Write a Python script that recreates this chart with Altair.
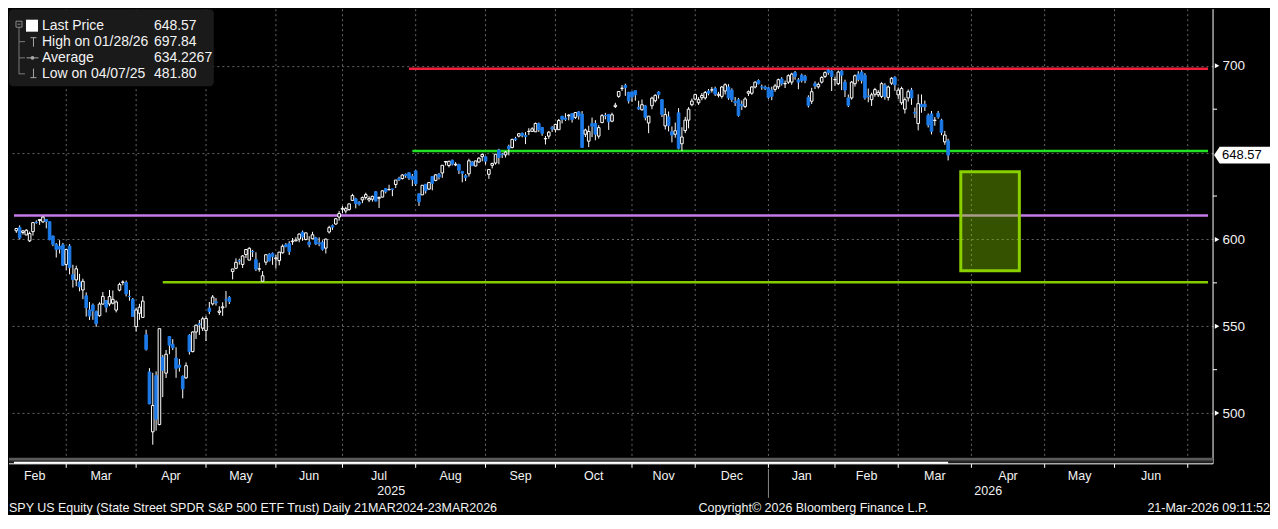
import altair as alt
import pandas as pd

FONT = "Liberation Sans, Arial, Helvetica, sans-serif"
TXT = "#f2f2f2"
BLUE = "#1c7ae8"
GRID = "#666666"
W, H = 1205, 448
X_DOM = [-16.7, 342.1]
Y_DOM = [474.8, 732.6]

# ---- daily SPY candles (open, high, low, close) ----
feb25 = [(605.0,606.6,603.8,606.3),(606.9,608.1,600.0,600.8),(604.0,605.5,602.8,604.9),(602.6,605.9,602.5,605.3),
         (599.2,604.5,598.5,603.4),(604.5,610.0,602.2,609.7),(609.9,611.0,609.1,609.7),(610.9,611.5,608.4,611.5),
         (610.1,613.2,609.6,612.9),(611.5,611.5,606.4,610.4),(610.2,610.3,599.5,599.9),(602.0,602.2,596.1,597.2),
         (597.2,597.9,589.6,594.2),(595.9,599.6,591.9,594.5),(596.9,598.0,584.7,585.1),(585.6,594.7,582.4,594.2)]
mar25 = [(596.2,597.3,579.9,583.8),(579.7,585.4,572.3,576.9),(576.7,584.9,573.1,583.1),(575.5,580.2,570.1,572.7),
         (570.9,577.4,565.6,575.9),(567.6,569.5,555.6,560.6),(559.4,564.0,553.6,555.9),(562.2,563.1,553.7,558.9),
         (558.5,559.0,549.7,551.4),(556.1,563.8,555.5,562.8),(562.8,569.7,562.4,567.2),(564.8,564.9,558.0,561.0),
         (562.8,570.9,561.6,567.1),(563.3,570.6,562.6,565.5),(559.3,564.9,558.0,564.0),(570.8,575.1,570.1,574.1),
         (575.3,576.4,573.6,575.5),(575.2,576.3,567.2,568.6),(567.2,570.9,564.7,567.1),(565.5,566.3,555.6,555.7),
         (549.8,560.7,546.9,559.4)]
apr25 = [(557.5,562.9,553.7,561.0),(555.1,567.4,554.8,564.5),(545.1,548.0,536.0,536.7),(523.7,525.9,505.1,505.3),
         (489.2,523.2,481.8,504.4),(521.6,524.0,489.9,496.5),(493.4,548.6,493.0,548.6),(532.2,533.5,509.2,524.6),
         (523.0,536.4,520.2,533.9),(544.1,544.3,533.9,539.1),(539.7,542.6,536.3,537.6),(531.7,537.9,520.3,525.7),
         (527.6,531.2,523.9,526.4),(521.2,521.7,508.5,513.9),(520.3,529.2,519.7,527.3),(544.8,545.4,533.7,535.4),
         (535.4,547.0,535.0,546.7),(546.7,551.0,542.7,550.6),(551.4,553.6,545.0,550.9),(548.9,555.5,547.3,554.3),
         (547.6,556.0,541.5,554.5)]
may25 = [(560.4,564.0,557.0,558.5),(562.9,568.0,562.0,566.8),(564.1,566.2,561.9,563.5),(558.0,561.5,556.4,558.8),
         (560.6,563.8,556.0,561.2),(565.2,570.3,560.8,565.1),(566.6,567.4,562.8,564.3),(581.5,583.0,577.0,583.0),
         (583.4,589.1,582.9,586.8),(587.8,588.9,585.5,587.6),(585.6,591.0,583.6,590.5),(591.3,594.5,589.3,594.2),
         (588.1,595.5,588.1,594.9),(593.1,594.0,589.9,592.9),(588.4,592.6,581.8,582.9),(582.9,586.6,581.4,583.1),
         (575.9,581.8,575.6,579.1),(586.9,591.3,585.2,591.2),(591.4,592.1,587.3,587.7),(592.0,592.5,585.4,590.1),
         (588.9,591.1,583.2,589.4)]
jun25 = [(587.8,592.8,585.1,592.7),(592.3,597.1,591.9,596.1),(596.9,597.9,595.5,595.9),(597.6,599.0,591.1,593.1),
         (598.7,600.8,596.9,599.1),(599.2,601.3,598.9,599.7),(600.2,603.5,598.4,603.1),(604.2,605.1,599.2,601.4),
         (600.0,603.8,599.5,603.8),(598.5,601.9,595.5,597.0),(600.4,604.4,600.2,602.7),(600.9,601.5,596.8,597.5),
         (598.0,601.2,596.1,597.4),(598.4,599.5,593.6,594.3),(595.0,600.5,591.9,600.2),(604.3,607.9,603.4,606.8),
         (607.9,608.6,605.5,607.1),(608.9,612.3,608.4,611.9),(612.9,616.4,610.8,614.9),(617.4,619.2,615.0,617.9)]
jul25 = [(616.4,618.8,615.0,617.7),(617.2,620.5,616.6,620.5),(622.5,626.3,622.4,625.3),(623.4,624.0,617.9,620.7),
         (621.4,622.1,619.5,620.3),(622.8,624.7,620.9,624.1),(624.2,626.9,623.0,625.8),(622.7,624.9,621.5,623.6),
         (623.2,625.2,621.8,624.8),(627.5,627.9,622.0,622.1),(623.7,624.7,618.1,624.2),(624.4,628.4,624.2,628.0),
         (629.3,629.5,626.5,627.6),(628.6,631.5,628.3,628.8),(629.1,629.1,624.9,628.9),(631.6,634.2,629.6,634.2),
         (635.2,636.1,633.6,634.4),(635.1,637.6,634.5,637.1),(637.4,638.0,635.5,636.9),(638.4,638.7,634.3,635.3),
         (636.4,637.7,630.7,634.5),(639.5,639.8,630.8,632.1)]
aug25 = [(626.3,626.3,619.3,621.7),(625.7,631.2,625.6,631.2),(631.8,631.8,626.4,628.0),(629.0,633.0,628.5,632.8),
         (636.3,636.4,628.3,632.3),(634.0,637.6,633.5,637.2),(637.5,638.3,634.5,635.9),(638.3,642.9,635.5,642.7),
         (644.6,645.2,642.6,644.9),(642.6,645.3,641.5,645.0),(645.6,646.0,642.6,643.4),(642.9,644.5,642.2,643.3),
         (643.1,643.6,637.7,639.8),(639.2,639.2,632.9,638.1),(636.7,637.6,633.6,635.6),(637.8,646.5,636.2,645.3),
         (644.6,645.1,642.4,642.5),(642.3,645.3,642.1,645.2),(644.6,647.4,644.2,646.8),(647.7,649.5,645.0,648.9),
         (647.6,647.8,643.1,645.1)]
sep25 = [(637.5,640.5,634.9,640.3),(642.7,644.2,640.9,643.7),(644.0,649.2,643.1,649.1),(651.5,652.2,643.3,647.2),
         (649.0,649.9,646.9,648.8),(648.7,650.9,647.2,650.3),(653.6,654.6,648.4,652.2),(652.9,658.0,652.5,657.6),
         (658.0,659.1,656.6,657.4),(659.5,661.0,658.8,660.9),(661.2,661.5,658.8,660.0),(659.9,661.8,654.9,659.2),
         (662.2,664.1,660.1,662.3),(662.3,664.6,661.9,663.7),(662.0,667.3,661.9,666.8),(666.7,667.3,661.9,663.2),
         (664.5,664.6,659.7,661.1),(657.9,659.6,654.7,658.1),(659.5,662.4,657.9,661.8),(664.4,665.3,661.9,663.7),
         (663.2,666.7,661.6,666.2)]
oct25 = [(663.2,669.4,663.1,668.5),(671.0,671.1,666.8,669.2),(669.9,672.7,668.2,669.2),(671.2,672.2,668.6,671.6),
         (672.5,672.6,667.3,669.1),(670.3,673.2,669.4,673.1),(673.5,673.9,669.0,671.2),(672.2,673.9,652.8,653.0),
         (660.6,663.8,659.0,663.0),(656.6,665.5,653.2,662.2),(666.8,670.2,658.9,665.2),(666.8,668.7,657.1,660.6),
         (659.5,665.8,658.1,664.4),(667.3,672.2,667.0,671.3),(671.4,672.9,669.2,671.3),(672.0,672.0,663.1,667.8),
         (668.1,673.0,667.5,671.8),(676.5,678.7,675.7,677.3),(682.4,685.5,681.6,685.2),(687.0,688.9,685.5,687.1),
         (688.7,689.7,682.7,687.4),(684.7,685.0,678.3,679.8),(685.0,685.1,679.2,682.1)]
nov25 = [(685.7,685.8,679.9,683.3),(676.1,679.9,674.6,675.2),(674.7,680.6,674.2,677.6),(676.9,677.4,668.6,670.3),
         (667.1,671.1,661.2,671.0),(677.0,682.2,675.0,681.4),(679.9,683.6,678.9,683.0),(684.9,685.4,681.1,683.4),
         (680.5,680.9,670.5,672.0),(665.4,675.6,663.3,671.9),(670.6,673.7,662.2,665.7),(662.1,665.1,655.9,660.1),
         (660.6,667.3,658.6,662.6),(672.9,675.6,651.9,652.5),(655.1,664.6,650.9,659.0),(662.7,670.6,661.2,668.7),
         (668.7,676.2,664.0,675.0),(677.6,681.1,676.7,679.7),(680.8,683.9,680.5,683.4)]
dec25 = [(678.7,681.9,677.5,680.5),(681.6,684.3,680.2,682.9),(681.5,685.5,680.5,684.6),(685.5,686.6,683.0,684.2),
         (686.0,687.8,684.6,686.2),(686.9,688.0,682.6,683.7),(683.0,685.0,681.8,683.6),(682.4,688.4,681.2,687.8),
         (685.5,689.9,683.5,689.1),(687.8,689.4,680.4,681.5),(686.0,687.0,679.2,680.5),(679.6,682.0,676.8,678.7),
         (680.5,681.5,670.7,671.4),(677.8,680.0,674.5,676.9),(676.5,681.9,675.8,680.9),(684.2,685.8,682.6,685.1),
         (684.2,688.2,683.3,687.8),(687.8,691.0,687.0,690.6),(691.5,692.2,689.3,689.7),(687.9,689.2,686.2,687.8),
         (687.8,688.6,686.0,686.9),(687.3,687.9,681.0,681.8)]
jan26 = [(686.0,688.0,680.2,682.4),(686.4,689.6,685.0,688.4),(687.9,692.6,686.6,692.0),(692.4,693.5,688.6,689.7),
         (689.6,691.5,687.2,689.8),(690.6,695.1,689.6,694.3),(690.6,696.0,689.1,695.2),(696.1,697.0,692.0,693.9),
         (691.9,693.0,686.5,690.6),(694.6,695.5,690.4,691.5),(693.9,694.8,690.0,691.5),(681.8,683.0,676.0,677.2),
         (679.6,687.3,678.0,685.1),(689.7,691.0,686.6,688.4),(687.9,690.4,686.9,689.3),(690.6,694.0,689.8,693.3),
         (693.9,696.8,693.0,696.1),(697.5,697.84,694.8,696.1),(697.0,697.5,685.5,693.9),(692.0,693.8,688.5,692.1)]
feb26 = [(689.7,697.3,688.9,696.4),(697.0,697.6,686.0,694.6),(690.6,692.0,682.0,686.0),(681.5,683.5,676.2,677.2),
         (681.5,691.3,680.5,690.6),(689.7,695.0,688.0,694.3),(695.2,696.9,691.0,692.1),(696.4,697.5,689.8,691.5),
         (694.6,695.8,680.5,681.5),(682.5,686.9,679.0,682.4),(680.5,684.5,676.9,683.3),(683.6,687.3,682.2,686.3),
         (683.3,686.0,682.0,684.7),(682.4,690.6,681.4,689.7),(688.8,690.0,680.5,682.4),(681.8,688.6,680.0,687.8),
         (690.0,693.5,689.0,692.8),(693.3,694.0,685.6,689.1),(683.3,687.5,681.0,686.0)]
mar26 = [(678.7,688.0,677.5,686.9),(675.0,681.8,672.5,680.5),(681.5,686.4,679.4,685.1),(686.0,687.3,677.5,681.5),
         (673.2,676.0,670.0,672.7),(666.8,683.6,662.8,678.2),(677.8,683.5,673.0,676.4),(677.8,680.0,674.0,676.4),
         (671.4,672.5,664.5,665.9),(672.3,674.0,660.5,662.3),(668.5,670.5,665.5,668.7),(672.7,674.0,669.5,670.5),
         (668.7,669.5,660.0,661.7),(656.2,662.5,654.5,660.1),(656.8,658.0,645.5,648.57)]

# ---- axis / annotation content ----
months = ["Feb", "Mar", "Apr", "May", "Jun", "Jul", "Aug", "Sep", "Oct", "Nov", "Dec",
          "Jan", "Feb", "Mar", "Apr", "May", "Jun"]
month_days = [19, 21, 21, 21, 20, 22, 21, 21, 23, 19, 22, 20, 19, 22, 22, 21, 22]
first_index = -19          # trading-day index of 3 Feb 2025
first_shown = -16          # trading-day index of first candle drawn
years = ["2025", "2026"]
price_ticks = [500, 550, 600, 650, 700]
minor_ticks = [525, 575, 625, 675]
levels = [698.3, 650.9, 613.8, 575.3]
level_start = [102, 103, -16.7, 28]
level_colors = ["#f0203c", "#22e022", "#c47ae8", "#84cc00"]
zone_t = [267.8, 285.4]
zone_v = [582.0, 639.0]
last_price = 648.57
legend_labels = ["Last Price", "High on 01/28/26", "Average", "Low on 04/07/25"]
legend_values = ["648.57", "697.84", "634.2267", "481.80"]
footer_left = "SPY US Equity (State Street SPDR S&P 500 ETF Trust) Daily 21MAR2024-23MAR2026"
footer_mid = "Copyright\u00a9 2026 Bloomberg Finance L.P."
footer_right = "21-Mar-2026 09:11:52"

# ---- build tables ----
rows = feb25 + mar25 + apr25 + may25 + jun25 + jul25 + aug25 + sep25 + oct25 + nov25 + dec25 + jan26 + feb26 + mar26
df = pd.DataFrame(rows, columns=["o", "h", "l", "c"])
df["t"] = list(range(first_shown, first_shown + len(df)))

bounds = []
s = first_index
for d in month_days:
    bounds.append(s - 1)
    s += d
bounds.append(s - 1)
grid_t = [b for b in bounds if X_DOM[0] < b < X_DOM[1]]
mdf = pd.DataFrame({"t": [(bounds[i] + bounds[i + 1]) / 2 for i in range(len(months))], "lab": months})
ybound = bounds[11]
ydf = pd.DataFrame({"t": [(X_DOM[0] + ybound) / 2, (ybound + X_DOM[1]) / 2], "lab": years})

xs = alt.Scale(domain=X_DOM, nice=False, zero=False)
ys = alt.Scale(domain=Y_DOM, nice=False, zero=False)
yaxis = alt.Axis(orient="right", values=price_ticks,
                 labelExpr="datum.value == 650 ? '' : datum.label",
                 grid=True, gridColor=GRID, gridDash=[2, 3], gridWidth=1,
                 domain=False, ticks=False, tickSize=0, labelPadding=9,
                 labelFont=FONT, labelFontSize=13.5, labelColor=TXT, title=None)


def X(field):
    return alt.X(field, type="quantitative", scale=xs, axis=None)


def Y(field):
    return alt.Y(field, type="quantitative", scale=ys, axis=yaxis)


one = pd.DataFrame({"k": [0]})


def seg(x1, y1, x2, y2, color, w=1.0):
    return alt.Chart(one).mark_rule(color=color, strokeWidth=w).encode(
        x=alt.value(x1), x2=alt.value(x2), y=alt.value(y1), y2=alt.value(y2))


def box(x1, y1, x2, y2, **kw):
    return alt.Chart(one).mark_rect(**kw).encode(
        x=alt.value(x1), x2=alt.value(x2), y=alt.value(y1), y2=alt.value(y2))


def label(s, x, y, size=13, color=TXT, align="left", baseline="middle"):
    return alt.Chart(one).mark_text(text=s, font=FONT, fontSize=size, color=color,
                                    align=align, baseline=baseline).encode(
        x=alt.value(x), y=alt.value(y))


layers = []

wicks = alt.Chart(df).mark_rule(color="#ffffff", strokeWidth=1).encode(
    x=X("t"), y=Y("l"), y2="h:Q")
down = "datum.c < datum.o"
bodies = alt.Chart(df).mark_bar(width=2.6, strokeWidth=1).encode(
    x=X("t"), y=Y("o"), y2="c:Q",
    fill=alt.condition(down, alt.value(BLUE), alt.value("#000000")),
    stroke=alt.condition(down, alt.value(BLUE), alt.value("#ffffff")))

# vertical month gridlines
layers.append(alt.Chart(pd.DataFrame({"t": grid_t})).mark_rule(
    color=GRID, strokeWidth=1, strokeDash=[2, 3]).encode(
    x=X("t"), y=alt.value(0), y2=alt.value(H)))

# horizontal level lines
lv = pd.DataFrame({"v": levels, "t0": level_start, "t1": [X_DOM[1]] * 4, "col": level_colors})
layers.append(alt.Chart(lv).mark_rule(strokeWidth=2.5).encode(
    x=X("t0"), x2="t1:Q", y=Y("v"), color=alt.Color("col:N", scale=None)))

# target zone
zdf = pd.DataFrame({"t0": [zone_t[0]], "t1": [zone_t[1]], "v0": [zone_v[0]], "v1": [zone_v[1]]})
layers.append(alt.Chart(zdf).mark_rect(fill="#84cc00", fillOpacity=0.4, stroke="#8ad000",
                                       strokeWidth=3, strokeOpacity=1).encode(
    x=X("t0"), x2="t1:Q", y=Y("v0"), y2="v1:Q"))

layers.append(wicks)
layers.append(bodies)

# right axis line, markers, minor ticks
layers.append(seg(W, 0, W, H + 7, "#ffffff", 1))
layers.append(alt.Chart(pd.DataFrame({"v": [p for p in price_ticks if p != 650]})).mark_point(
    shape="triangle-right", filled=True, size=26, color="#ffffff", opacity=1).encode(
    x=alt.value(W + 4), y=Y("v")))
layers.append(alt.Chart(pd.DataFrame({"v": minor_ticks})).mark_rule(color="#ffffff", strokeWidth=1).encode(
    x=alt.value(W), x2=alt.value(W + 4), y=Y("v")))

# last price tag
tag_path = "M -1 0 L -0.8 -0.3 L 1 -0.3 L 1 0.3 L -0.8 0.3 Z"
tdf = pd.DataFrame({"v": [last_price], "s": [f"{last_price:.2f}"]})
layers.append(alt.Chart(tdf).mark_point(shape=tag_path, size=56 * 56, filled=True,
                                        fill="#ffffff", strokeWidth=0, opacity=1).encode(
    x=alt.value(W + 29), y=Y("v")))
layers.append(alt.Chart(tdf).mark_text(font=FONT, fontSize=13, color="#000000",
                                       align="left", baseline="middle").encode(
    x=alt.value(W + 9), y=Y("v"), text="s:N"))

# bottom scroll bar + axis line
layers.append(box(0, H + 1, W, H + 4, fill="#5a5a5a"))
layers.append(box(0, H + 4, W, H + 6, fill="#262626"))
layers.append(seg(0, H + 7, W, H + 7, "#ffffff", 1))
layers.append(alt.Chart(pd.DataFrame({"t0": [X_DOM[0]], "t1": [float(df["t"].max())]})).mark_rule(
    color="#ffffff", strokeWidth=2).encode(x=X("t0"), x2="t1:Q", y=alt.value(H + 6)))
layers.append(alt.Chart(pd.DataFrame({"t": grid_t})).mark_rule(color="#ffffff", strokeWidth=1).encode(
    x=X("t"), y=alt.value(H + 7), y2=alt.value(H + 11)))
layers.append(alt.Chart(pd.DataFrame({"t": [ybound]})).mark_rule(color="#8a8a8a", strokeWidth=1).encode(
    x=X("t"), y=alt.value(H + 12), y2=alt.value(H + 41)))

# month and year labels
layers.append(alt.Chart(mdf).mark_text(font=FONT, fontSize=12.5, color=TXT,
                                       baseline="alphabetic", align="center").encode(
    x=X("t"), y=alt.value(H + 23), text="lab:N"))
layers.append(alt.Chart(ydf).mark_text(font=FONT, fontSize=12.5, color=TXT,
                                       baseline="alphabetic", align="center").encode(
    x=X("t"), y=alt.value(H + 38), text="lab:N"))

# footer
layers.append(label(footer_left, 0, H + 55, 12.5, baseline="alphabetic"))
layers.append(label(footer_mid, 690, H + 55, 12.5, baseline="alphabetic"))
layers.append(label(footer_right, W + 57, H + 55, 12.5, align="right", baseline="alphabetic"))

# legend panel
row_y = [16.7, 32.5, 48.7, 64.7]
layers.append(box(0, 0, 205, 77, fill="#1a1a1a", cornerRadius=4))
layers.append(seg(10, 17, 10, 65, "#7a7a7a"))
for yy in row_y[1:]:
    layers.append(seg(10, yy, 16, yy, "#7a7a7a"))
layers.append(box(7, 12, 13, 18, fill="#1a1a1a", stroke="#8a8a8a", strokeWidth=1))
layers.append(seg(8.5, 15, 11.5, 15, "#8a8a8a"))
layers.append(box(17, 10.5, 29, 22.5, fill="#ffffff"))
layers.append(seg(21.5, 28.5, 27.5, 28.5, "#a8a8a8"))
layers.append(seg(24.5, 28.5, 24.5, 37.5, "#a8a8a8"))
layers.append(seg(17.5, 48.7, 29.5, 48.7, "#a8a8a8"))
layers.append(alt.Chart(one).mark_point(shape="circle", filled=True, size=14, color="#a8a8a8",
                                        opacity=1).encode(x=alt.value(23.5), y=alt.value(48.7)))
layers.append(seg(24.5, 59.5, 24.5, 68.5, "#a8a8a8"))
layers.append(seg(21.5, 68.5, 27.5, 68.5, "#a8a8a8"))
for lab, val, yy in zip(legend_labels, legend_values, row_y):
    layers.append(label(lab, 33, yy, 14))
    layers.append(label(val, 145, yy, 14))

chart = alt.layer(*layers).properties(
    width=W, height=H, background="#000000", padding=0
).configure_view(stroke=None)

chart.save("out.html", embed_options={"renderer": "svg", "actions": False})
